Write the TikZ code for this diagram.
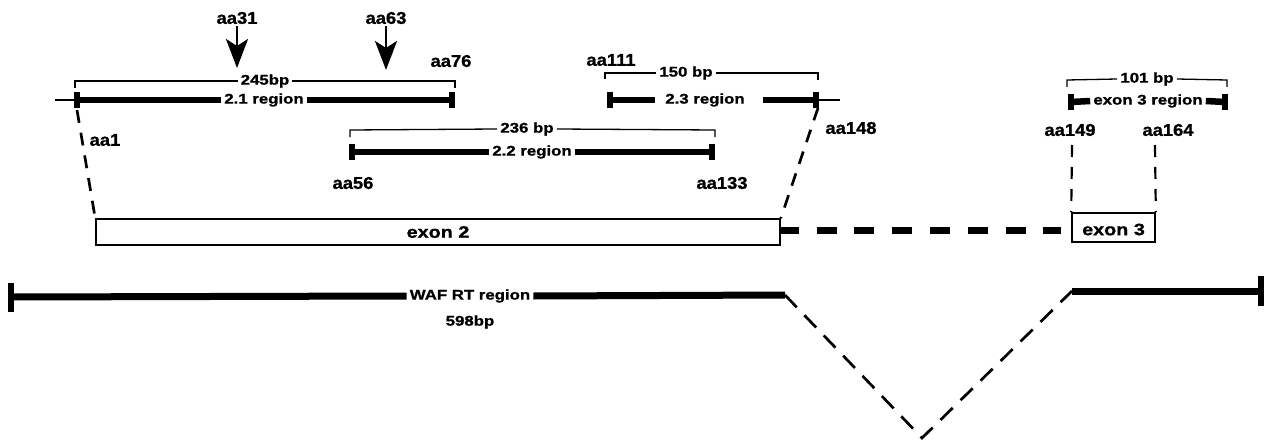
\documentclass[tikz,border=0pt]{standalone}
\usepackage{fontspec}
\setmainfont{Liberation Sans}
\newfontfamily\bigfont[FakeStretch=1.08,FakeBold=1.2,UprightFont={* Bold}]{Liberation Sans}
\newfontfamily\smallfont[FakeStretch=1.2,FakeBold=1.2,UprightFont={* Bold}]{Liberation Sans}
\usetikzlibrary{arrows.meta,calc}
\begin{document}
\begin{tikzpicture}[x=1pt,y=-1pt,
  big/.style={font=\bigfont\fontsize{17}{17}\selectfont, inner sep=0pt},
  small/.style={font=\smallfont\fontsize{14}{14}\selectfont, inner xsep=3pt, inner ysep=0pt},
  exlab/.style={font=\smallfont\fontsize{16.5}{16.5}\selectfont, inner sep=0pt},
  bar/.style={line width=6.5pt},
  thinbar/.style={line width=1.5pt},
  brk/.style={line width=1.3pt},
  endmark/.style={line width=6pt},
  dashline/.style={line width=2.7pt, dash pattern=on 13pt off 10pt},
  pointer/.style={line width=2.8pt, -{Stealth[length=29pt,width=22pt,inset=7pt]}},
  box/.style={draw, line width=1.6pt, fill=white}
]
\useasboundingbox (0,0) rectangle (1265,441);

% ---------- arrows aa31, aa63 ----------
\node[big] (l31) at (237,18) {aa31};
\node[big] (l63) at (386,18) {aa63};
\coordinate (t31) at (237,68);
\coordinate (t63) at (386,70);
\draw[pointer] (l31.south) ++(0,2) -- (t31);
\draw[pointer] (l63.south) ++(0,2) -- (t63);
\node[big] (l76) at (451,61) {aa76};

% ---------- 2.1 region ----------
\coordinate (b21l) at (75,81);
\coordinate (b21r) at (455,81);
\node[small] (t245) at (265,81) {245bp};
\draw[brk] ($(b21l)+(0,7)$) -- (b21l) -- (t245.west);
\draw[brk] (t245.east) -- (b21r) -- ++(0,7);
\coordinate (r21l) at (77,100);
\coordinate (r21r) at (452,100);
\node[small] (t21) at (264,100) {2.1 region};
\draw[thinbar] (55,100) -- (r21l);
\draw[bar] (r21l) -- (t21.west);
\draw[bar] (t21.east) -- (r21r);
\draw[endmark] ($(r21l)+(0,-8)$) -- ($(r21l)+(0,8)$);
\draw[endmark] ($(r21r)+(0,-8)$) -- ($(r21r)+(0,8)$);
\node[big] (l1) at (105,140) {aa1};

% ---------- 2.2 region ----------
\coordinate (b22l) at (350,130);
\coordinate (b22r) at (715,130);
\node[small] (t236) at (527,129) {236 bp};
\draw[brk] ($(b22l)+(0,7)$) -- (b22l) -- (t236.west);
\draw[brk] (t236.east) -- (b22r) -- ++(0,7);
\coordinate (r22l) at (352,152);
\coordinate (r22r) at (712,152);
\node[small] (t22) at (532,152) {2.2 region};
\draw[bar] (r22l) -- (t22.west);
\draw[bar] (t22.east) -- (r22r);
\draw[endmark] ($(r22l)+(0,-8)$) -- ($(r22l)+(0,8)$);
\draw[endmark] ($(r22r)+(0,-8)$) -- ($(r22r)+(0,8)$);
\node[big] (l56) at (353,183) {aa56};
\node[big] (l133) at (722,183) {aa133};

% ---------- 2.3 region ----------
\coordinate (b23l) at (605,73);
\coordinate (b23r) at (818,73);
\node[small] (t150) at (686,73) {150 bp};
\draw[brk] ($(b23l)+(0,6)$) -- (b23l) -- (t150.west);
\draw[brk] (t150.east) -- (b23r) -- ++(0,7);
\coordinate (r23l) at (610,100);
\coordinate (r23r) at (816,100);
\node[small] (t23) at (705,100) {2.3 region};
\coordinate (g23a) at (655,100);
\coordinate (g23b) at (763,100);
\draw[bar] (r23l) -- (g23a);
\draw[bar] (g23b) -- (r23r);
\draw[thinbar] (r23r) -- (840,100);
\draw[endmark] ($(r23l)+(0,-8)$) -- ($(r23l)+(0,8)$);
\draw[endmark] ($(r23r)+(0,-8)$) -- ($(r23r)+(0,8)$);
\node[big] (l111) at (611,60) {aa111};
\node[big] (l148) at (851,128) {aa148};

% ---------- exon 3 region ----------
\coordinate (b3l) at (1067,80);
\coordinate (b3r) at (1227,80);
\node[small] (t101) at (1147,79) {101 bp};
\draw[brk] ($(b3l)+(0,7)$) -- (b3l) -- (t101.west);
\draw[brk] (t101.east) -- (b3r) -- ++(0,7);
\coordinate (r3l) at (1071,102);
\coordinate (r3r) at (1225,102);
\node[small] (t3) at (1148,101) {exon 3 region};
\draw[bar] (r3l) -- (t3.west);
\draw[bar] (t3.east) -- (r3r);
\draw[endmark] ($(r3l)+(0,-8)$) -- ($(r3l)+(0,8)$);
\draw[endmark] ($(r3r)+(0,-8)$) -- ($(r3r)+(0,8)$);
\node[big] (l149) at (1070,130) {aa149};
\node[big] (l164) at (1168,130) {aa164};

% ---------- exons ----------
\node[box, minimum width=684pt, minimum height=26pt, inner sep=0pt] (ex2) at (438,232) {};
\node[exlab] at (ex2.center) {exon 2};
\node[box, minimum width=83pt, minimum height=29pt, inner sep=0pt] (ex3) at (1113.5,227.5) {};
\node[exlab] at ($(ex3.center)+(0,2)$) {exon 3};

% intron (thick dashed)
\coordinate (i1) at ($(ex2.east)+(-2,-2)$);
\coordinate (i2) at ($(ex3.west)+(-10,2.5)$);
\draw[line width=7pt, dash pattern=on 20pt off 17.8pt] (i1) -- (i2);

% dashed projection lines
\coordinate (p1) at (77,110);
\coordinate (p148) at (818,108);
\draw[dashline] (p1) -- (ex2.north west);
\draw[dashline] (p148) -- (ex2.north east);
\draw[line width=2.2pt, dash pattern=on 12pt off 10pt] (1072,145) -- (ex3.north west);
\draw[line width=2.2pt, dash pattern=on 12pt off 10pt] (1155,145) -- (ex3.north east);

% ---------- WAF RT region ----------
\coordinate (wl) at (11,297);
\coordinate (wm) at (785,295);
\coordinate (wn) at (1072,291);
\coordinate (wr) at (1261,291);
\coordinate (wv) at (922,438);
\node[small] (twaf) at (470,296) {WAF RT region};
\node[small] (t598) at (470,322) {598bp};
\draw[line width=7pt] (wl) -- (twaf.west);
\draw[line width=7pt] (twaf.east) -- (wm);
\draw[line width=7pt] (wn) -- (wr);
\draw[endmark] ($(wl)+(0,-14)$) -- ($(wl)+(0,15)$);
\draw[endmark] ($(wr)+(0,-15)$) -- ($(wr)+(0,15)$);
\draw[line width=2.7pt, dash pattern=on 17pt off 11pt] (wm) -- (wv) -- (wn);
\end{tikzpicture}
\end{document}
